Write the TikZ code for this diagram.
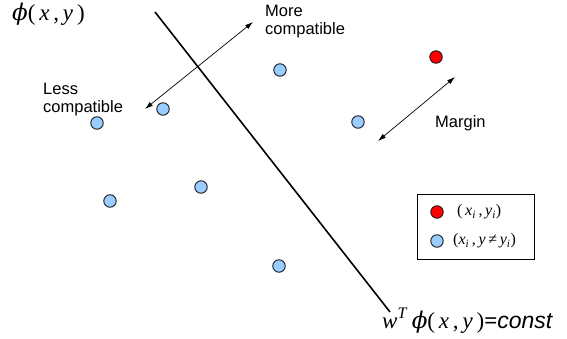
\documentclass[tikz,border=0pt]{standalone}
\usepackage{fontspec}
\usepackage{xcolor}
\usepackage{tikz}
\usetikzlibrary{arrows.meta,positioning}
\newfontfamily\labelfont{Liberation Sans}
\newfontfamily\formfont{Liberation Serif}
\newfontfamily\phifont{DejaVu Serif}
\definecolor{svblue}{HTML}{99CCFF}
\definecolor{svred}{HTML}{FF0000}
\definecolor{svedge}{HTML}{1A1A1A}
\newcommand{\iv}[1]{\textit{#1}}
\newcommand{\phisym}{{\phifont\itshape ϕ}}
\tikzset{
  sample/.style={circle,draw=svedge,fill=svblue,minimum size=12.5pt,inner sep=0pt,line width=0.9pt},
  truth/.style={sample,fill=svred},
  hint/.style={font=\labelfont\fontsize{16.5}{18.5}\selectfont,align=left,inner sep=0pt},
  formula/.style={font=\formfont\fontsize{23}{25}\selectfont,inner sep=0pt},
  keytext/.style={font=\formfont\fontsize{16}{18}\selectfont,inner sep=0pt},
  gap/.style={{Latex[length=8pt,width=5pt]}-{Latex[length=8pt,width=5pt]},line width=0.7pt},
  sep/.style={line width=1.6pt}
}
\begin{document}
\begin{tikzpicture}[x=1pt,y=-1pt]
    \useasboundingbox (0,0) rectangle (567,339);
    \node[formula,anchor=base west] (space) at (12,21) {\phisym(\,\iv{x}\,,\,\iv{y}\,)};
    % separating hyperplane
    \coordinate (hyptop) at (155,12);
    \coordinate (hypend) at (390,312);
    \draw[sep] (hyptop)--(hypend);
    \node[formula,anchor=base west] (plane) at (382,328) {\iv{w}\textsuperscript{\iv{T}}\,\phisym(\,\iv{x}\,,\,\iv{y}\,)\textbf{=}\textit{\labelfont const}};
    % samples
    \node[truth] (gold) at (436,57) {};
    \node[sample] (s1) at (163,109) {};
    \node[sample] (s2) at (97,123) {};
    \node[sample] (s3) at (280,70) {};
    \node[sample] (s4) at (358,122) {};
    \node[sample] (s5) at (110,201) {};
    \node[sample] (s6) at (201,187) {};
    \node[sample] (s7) at (279,266) {};
    % compatibility direction
    \coordinate (lessend) at (145,109);
    \coordinate (moreend) at (253,22);
    \draw[gap] (lessend)--(moreend);
    \node[hint,anchor=base west] (more) at (265,35) {More\\compatible};
    \node[hint,anchor=base west] (less) at (43,113) {Less\\compatible};
    % margin
    \coordinate (marglo) at (378,141);
    \coordinate (marghi) at (455,77);
    \draw[gap] (marglo)--(marghi);
    \node[hint,anchor=base west] (margin) at (435,128) {Margin};
    % legend
    \node[draw,line width=0.8pt,minimum width=117pt,minimum height=65pt,inner sep=0pt] (legend) at (475.5,226.5) {};
    \node[truth] (keygold) at (437,212) {};
    \node[sample] (keyneg) at (437,241) {};
    \node[keytext,anchor=west] (goldtext) at (457,212) {(\,\iv{x}\textsubscript{\iv{i}}\,,\,\iv{y}\textsubscript{\iv{i}})};
    \node[keytext,anchor=west] (negtext) at (453,241) {(\iv{x}\textsubscript{\iv{i}}\,,\,\iv{y}\,≠\,\iv{y}\textsubscript{\iv{i}})};
  \end{tikzpicture}
\end{document}
